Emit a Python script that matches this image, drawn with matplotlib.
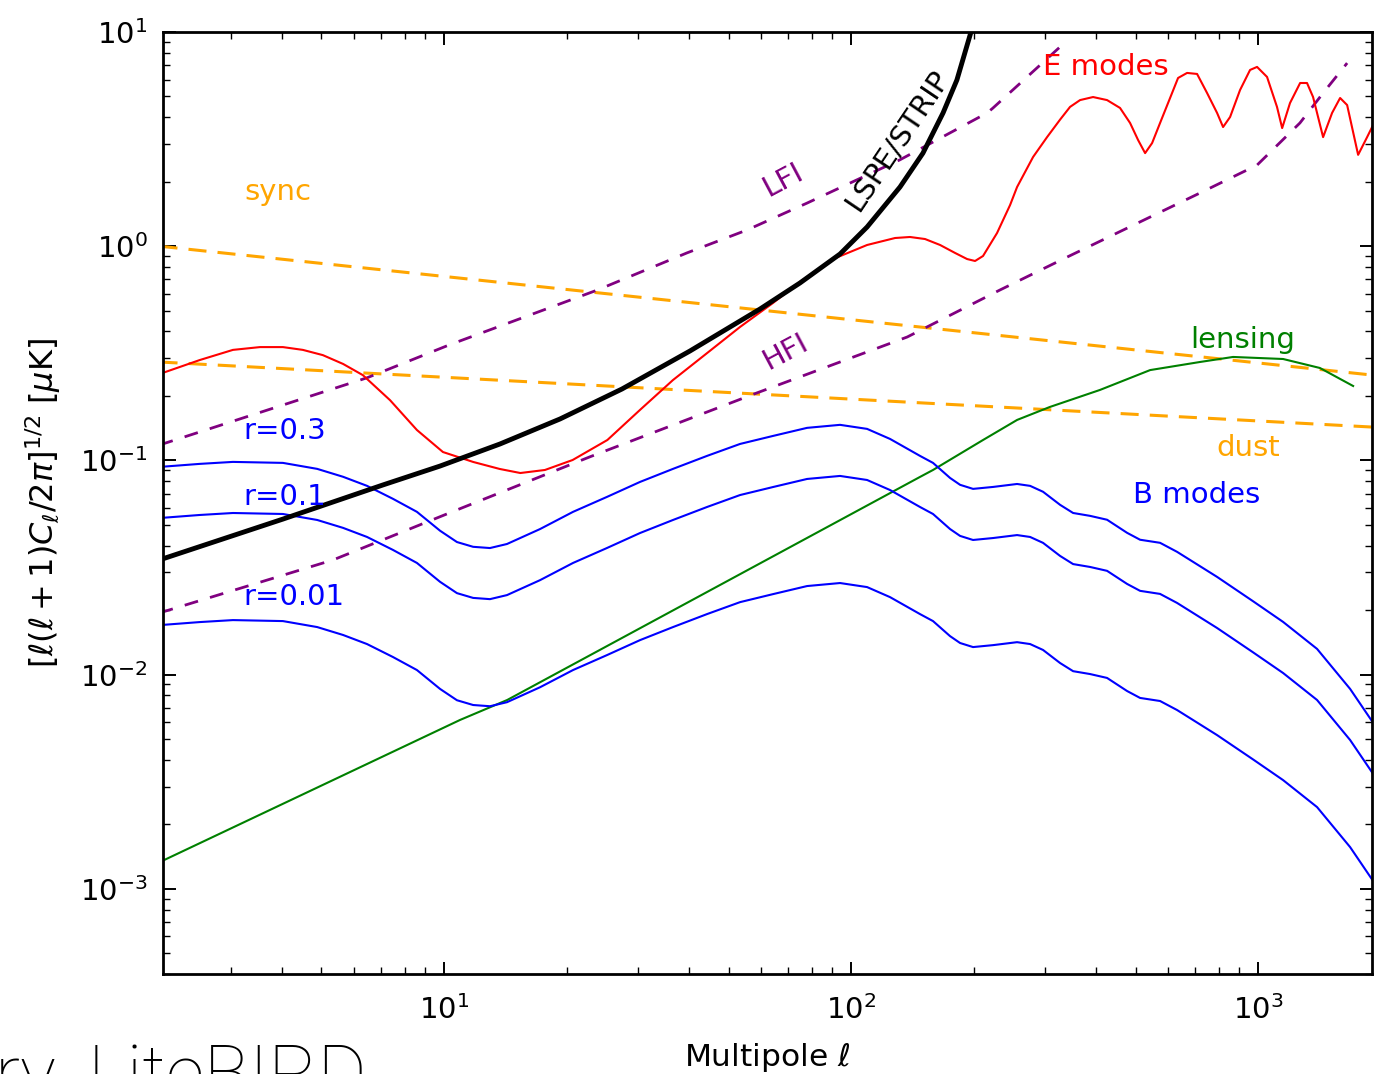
import matplotlib
matplotlib.use("Agg")
import matplotlib.pyplot as plt
import numpy as np

plt.rcParams['font.family'] = ['DejaVu Sans']
plt.rcParams['mathtext.fontset'] = 'dejavusans'
plt.rcParams['lines.scale_dashes'] = False

# ---- spectra: multipole ell and amplitude [uK] ----
sync_ell = [2.0, 1915.0]
sync_amp = [1.0, 0.25]

dust_ell = [2.0, 1915.0]
dust_amp = [0.288, 0.143]

lfi_ell = [2.0, 6.47, 10.3, 23.8, 39.5, 55.5, 78.0, 131.8, 216.0, 223.0, 326.0, 336.0]
lfi_amp = [0.118, 0.243, 0.346, 0.624, 0.93, 1.19, 1.59, 2.53, 4.19, 4.41, 8.51, 9.0]

hfi_ell = [2.0, 5.34, 10.3, 22.8, 58.7, 137.4, 232.0, 339.7, 720.0, 994.0, 1267.0, 1445.0, 1655.0]
hfi_amp = [0.0194, 0.0343, 0.0568, 0.1038, 0.2065, 0.3767, 0.624, 0.890, 1.772, 2.39, 3.76, 5.19, 7.16]

lspe_ell = [2.0, 4.02, 7.08, 9.78, 13.73, 19.28, 27.37, 40.2, 59.76, 74.9, 93.97, 109.5,
            131.9, 150.2, 168.3, 182.0, 199.4]
lspe_amp = [0.0343, 0.0532, 0.0768, 0.0941, 0.1193, 0.1561, 0.2154, 0.3241, 0.5090, 0.6733,
            0.9196, 1.229, 1.889, 2.72, 4.19, 5.97, 10.78]

ee_ell = [2.0, 2.51, 3.03, 3.53, 4.02, 4.50, 5.04, 5.65, 6.32, 7.37, 8.58, 9.94, 11.8, 13.7,
          15.4, 17.7, 20.7, 25.2, 30.3, 36.5, 44.3, 53.4, 64.3, 74.9, 90.3, 109.5, 128.3,
          139.6, 152.0, 165.5, 180.1, 192.8, 201.7, 211.0, 228.4, 245.9, 255.8, 280.1,
          303.1, 326.3, 345.2, 365.3, 393.2, 425.6, 458.0, 484.8, 507.3, 527.8, 549.1,
          574.4, 607.9, 636.0, 669.2, 708.2, 749.4, 793.0, 820.4, 853.6, 903.1, 955.7,
          994.3, 1052.0, 1113.0, 1146.0, 1198.0, 1268.6, 1319.0, 1365.0, 1444.7, 1520.0,
          1590.6, 1655.0, 1761.2, 1853.0, 1917.0]
ee_amp = [0.253, 0.294, 0.328, 0.338, 0.338, 0.328, 0.310, 0.282, 0.250, 0.191, 0.1386,
          0.1094, 0.0983, 0.0912, 0.0873, 0.0902, 0.1004, 0.1245, 0.172, 0.237, 0.317,
          0.420, 0.543, 0.681, 0.871, 1.013, 1.092, 1.104, 1.080, 1.013, 0.930, 0.871,
          0.853, 0.900, 1.152, 1.557, 1.889, 2.61, 3.23, 3.9, 4.47, 4.81, 4.97, 4.81,
          4.42, 3.76, 3.13, 2.72, 3.03, 3.76, 4.92, 6.10, 6.44, 6.37, 5.19, 4.19, 3.60,
          4.01, 5.36, 6.65, 6.87, 6.17, 4.47, 3.56, 4.66, 5.78, 5.78, 4.97, 3.23, 4.19,
          4.92, 4.56, 2.67, 3.23, 3.68]

lens_ell = [2.0, 10.95, 14.3, 147.7, 159.0, 211.0, 255.9, 308.0, 409.0, 543.0, 720.0,
            868.0, 1152.0, 1419.0, 1712.0]
lens_amp = [0.00133, 0.00614, 0.00761, 0.0837, 0.0902, 0.1245, 0.1545, 0.1776, 0.2133,
            0.264, 0.288, 0.304, 0.2974, 0.270, 0.2225]

# primordial B-mode spectrum for r = 0.1; other r values scale as sqrt(r)
bb_ell = [2.0, 2.51, 3.03, 4.02, 4.88, 5.65, 6.47, 7.49, 8.58, 9.78, 10.76, 11.79, 12.97,
          14.28, 17.22, 20.75, 25.15, 30.31, 36.53, 44.29, 53.38, 64.33, 77.98, 93.97,
          109.5, 124.7, 147.7, 159.0, 175.1, 185.3, 199.4, 223.4, 255.8, 275.4, 296.3,
          326.3, 351.2, 386.6, 425.6, 476.6, 513.0, 574.4, 632.4, 692.2, 793.0, 972.1,
          1152.0, 1396.0, 1683.0, 1939.0]
bb_amp_r01 = [0.0538, 0.0556, 0.0568, 0.0562, 0.0527, 0.0484, 0.0439, 0.0382, 0.0332,
              0.0271, 0.0240, 0.0228, 0.0225, 0.0235, 0.0276, 0.0332, 0.0390, 0.0458,
              0.0527, 0.0606, 0.0689, 0.0751, 0.0819, 0.0846, 0.0810, 0.0727, 0.0606,
              0.0562, 0.0478, 0.0444, 0.0425, 0.0434, 0.0448, 0.0439, 0.0412, 0.0358,
              0.0328, 0.0318, 0.0305, 0.0265, 0.0246, 0.0238, 0.0216, 0.0194, 0.0165,
              0.0127, 0.01017, 0.00761, 0.00495, 0.00333]
r_values = [0.3, 0.1, 0.01]
r_labels = ['r=0.3', 'r=0.1', 'r=0.01']

# ---- figure ----
fig = plt.figure(figsize=(13.75, 10.74), dpi=100)
ax = fig.add_axes([163 / 1375, 1 - 974 / 1074, 1209 / 1375, 942 / 1074])
ax.set_xscale('log')
ax.set_yscale('log')

dash_orange = (0, (13, 8))
dash_purple = (0, (10, 9))

ax.plot(sync_ell, sync_amp, color='orange', lw=2.2, linestyle=dash_orange)
ax.plot(dust_ell, dust_amp, color='orange', lw=2.2, linestyle=dash_orange)
ax.plot(lfi_ell, lfi_amp, color='purple', lw=2.0, linestyle=dash_purple)
ax.plot(hfi_ell, hfi_amp, color='purple', lw=2.0, linestyle=dash_purple)
ax.plot(ee_ell, ee_amp, color='red', lw=1.5)
ax.plot(lens_ell, lens_amp, color='green', lw=1.5)
for r in r_values:
    amp = np.array(bb_amp_r01) * np.sqrt(r / 0.1)
    ax.plot(bb_ell, amp, color='blue', lw=1.5)
ax.plot(lspe_ell, lspe_amp, color='black', lw=3.5)

ax.set_xlim(2.04, 1905)
ax.set_ylim(4e-4, 10)

# ---- curve labels ----
fs = 21
ax.text(3.24, 1.64, 'sync', color='orange', fontsize=fs, ha='left', va='baseline')
ax.text(68.1, 2.04, 'LFI', color='purple', fontsize=fs, ha='center', va='center', rotation=28)
ax.text(129.7, 3.13, 'LSPE/STRIP', color='black', fontsize=fs, ha='center', va='center',
        rotation=56)
ax.text(68.9, 0.321, 'HFI', color='purple', fontsize=fs, ha='center', va='center', rotation=28)
ax.text(296.6, 6.87, 'E modes', color='red', fontsize=fs, ha='left', va='center')
ax.text(681, 0.365, 'lensing', color='green', fontsize=fs, ha='left', va='center')
ax.text(792, 0.1143, 'dust', color='orange', fontsize=fs, ha='left', va='center')
ax.text(493, 0.0689, 'B modes', color='blue', fontsize=fs, ha='left', va='center')
r_label_amp = [0.137, 0.0675, 0.0230]
for lab, yv in zip(r_labels, r_label_amp):
    ax.text(3.21, yv, lab, color='blue', fontsize=fs, ha='left', va='center')

# ---- axes styling ----
for sp in ax.spines.values():
    sp.set_linewidth(2.0)
ax.tick_params(which='both', direction='in', top=True, right=True, labelsize=21)
ax.tick_params(axis='x', which='major', pad=15)
ax.tick_params(axis='y', which='major', pad=11)
ax.tick_params(which='major', length=9, width=1.4)
ax.tick_params(which='minor', length=5, width=1.0)

ax.set_xlabel(r'Multipole $\ell$', fontsize=22.5)
ax.xaxis.set_label_coords(0.5, -0.071)
ax.set_ylabel(r'$[\ell(\ell+1)C_\ell/2\pi]^{1/2}$ [$\mu$K]', fontsize=23)
ax.yaxis.set_label_coords(-0.083, 0.5)

fig.text(367 / 1375, -0.022, 'ry, LiteBIRD', fontsize=54, family=['Roboto', 'DejaVu Sans'],
         fontweight='light', ha='right', va='baseline', color='black')

fig.savefig('out.png', dpi=100)
